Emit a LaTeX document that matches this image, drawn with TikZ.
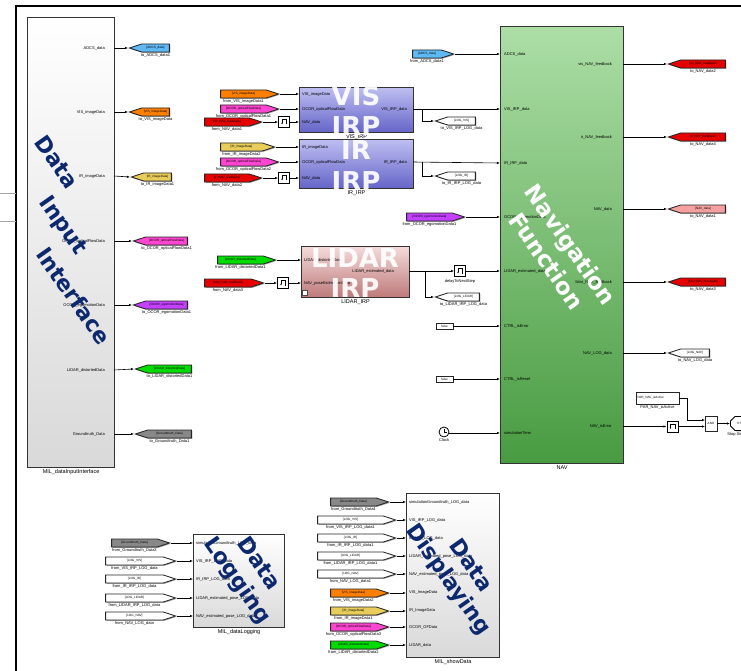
\documentclass[tikz,border=0pt]{standalone}
\usepackage{fontspec}
\setmainfont{Liberation Sans}
\newfontfamily\bigfont{DejaVu Sans}
\usetikzlibrary{shapes.symbols,shapes.misc,arrows.meta,shadows}
\definecolor{navy}{RGB}{12,40,110}
\definecolor{cADCS}{RGB}{95,185,245}
\definecolor{cVIS}{RGB}{255,128,0}
\definecolor{cIR}{RGB}{232,205,90}
\definecolor{cOF}{RGB}{255,70,210}
\definecolor{cEGO}{RGB}{195,65,255}
\definecolor{cLID}{RGB}{0,220,0}
\definecolor{cGT}{RGB}{136,136,136}
\definecolor{cRED}{RGB}{230,0,0}
\definecolor{cPINK}{RGB}{245,160,160}
\definecolor{irpTop}{RGB}{190,190,242}
\definecolor{irpBot}{RGB}{100,100,200}
\definecolor{lidTop}{RGB}{244,218,218}
\definecolor{lidBot}{RGB}{190,122,122}
\definecolor{navTop}{RGB}{172,222,166}
\definecolor{navBot}{RGB}{72,155,65}
\newcommand\pf{\fontsize{4}{4.5}\selectfont}
\newcommand\tf{\fontsize{3.1}{3.5}\selectfont}
\newcommand\nf{\fontsize{5.5}{6}\selectfont}
\newcommand\bigtxt{\fontsize{22}{26}\selectfont\bigfont\bfseries}
\newcommand\navtxt{\fontsize{23}{27}\selectfont\bigfont\bfseries}
\newcommand\irptxt{\fontsize{26}{30}\selectfont\bigfont\bfseries}
\newcommand\gotoT[7]{%
  \node[gototag, fill=#5, minimum width=#3pt, anchor=west] (#1) at (#2,#4) {#6};
  \node[tlab] (#1-l) at (#1.south) {#7};}
\newcommand\fromT[7]{%
  \node[fromtag, fill=#5, minimum width=#3pt, anchor=east] (#1) at (#2,#4) {#6};
  \node[tlab] (#1-l) at (#1.south) {#7};}
\catcode`\_=12
\begin{document}
\begin{tikzpicture}[x=1pt,y=-1pt,
  sh/.style={drop shadow={shadow xshift=0.9pt,shadow yshift=-0.9pt,fill=black,opacity=0.35}},
  sig/.style={-{Latex[length=3pt,width=2.4pt]}, line width=0.6pt},
  wire/.style={line width=0.6pt},
  tag/.style={signal, draw=black!85, line width=0.85pt, minimum height=8pt, inner sep=0pt,
    signal pointer angle=36, font=\tf, sh},
  gototag/.style={tag, signal to=west},
  fromtag/.style={tag, signal to=east},
  tlab/.style={font=\pf, inner sep=0.3pt, anchor=north, yshift=-0.8pt},
  blk/.style={draw=black!80, line width=1.1pt, inner sep=0pt, anchor=north west, sh},
  bname/.style={font=\nf, inner sep=0.5pt, anchor=north, yshift=-1pt},
  plab/.style={font=\pf, inner sep=0pt},
  bigdark/.style={font=\bigtxt, text=navy, inner sep=0pt, rotate=-55},
  bigwhite/.style={font=\navtxt, text=white, inner sep=0pt, rotate=-55},
  irpt/.style={font=\irptxt, text=white, inner sep=0pt, anchor=base, opacity=0.92},
  delaybox/.style={draw=black, line width=0.8pt, fill=white, minimum width=11pt, minimum height=11pt,
    inner sep=0pt, sh,
    path picture={\draw[line width=0.55pt,-{Latex[length=1.6pt,width=1.6pt]}]
      ([shift={(2.5pt,-2.5pt)}]path picture bounding box.center) -- ++(0pt,5pt) -- ++(-4.5pt,0pt) -- ++(0pt,-5pt);}},
  constbox/.style={draw=black!85, line width=0.7pt, fill=white, inner sep=0pt, font=\tf, sh}
]
\useasboundingbox (0,0) rectangle (741,671);
\clip (0,0) rectangle (741,671);

% ---------- frame ----------
\draw[line width=1.4pt] (16,671) -- (16,6) -- (741,6);
\draw[black!35, line width=0.8pt] (0,193) -- (16,193) (0,221) -- (16,221);

% ---------- blocks ----------
\node[blk, top color=white, bottom color=black!15, minimum width=87pt, minimum height=450pt] (dii) at (27,17) {};
\node[bname] (dii-n) at (dii.south) {MIL_dataInputInterface};

\node[blk, top color=irpTop, bottom color=irpBot, minimum width=114pt, minimum height=45pt] (vis) at (299,87) {};
\node[bname] (vis-n) at (vis.south) {VIS_IRP};
\node[blk, top color=irpTop, bottom color=irpBot, minimum width=114pt, minimum height=49pt] (ir) at (299,139) {};
\node[bname] (ir-n) at (ir.south) {IR_IRP};
\node[blk, top color=lidTop, bottom color=lidBot, minimum width=108pt, minimum height=51pt] (lid) at (301,246) {};
\node[bname] (lid-n) at (lid.south) {LIDAR_IRP};
\node[draw=black!70, line width=0.4pt, fill=white, minimum size=5pt, inner sep=0pt] (lid-ic) at (304.5,292.5) {};

\node[blk, top color=navTop, bottom color=navBot, minimum width=123pt, minimum height=437pt] (nav) at (500,26) {};
\node[bname] (nav-n) at (nav.south) {NAV};

\node[blk, top color=white, bottom color=black!15, minimum width=91pt, minimum height=93pt] (log) at (193,534) {};
\node[bname] (log-n) at (log.south) {MIL_dataLogging};
\node[blk, top color=white, bottom color=black!15, minimum width=93pt, minimum height=164pt] (show) at (406,493) {};
\node[bname] (show-n) at (show.south) {MIL_showData};

% ---------- port labels ----------
\foreach \y/\t [count=\i] in {48/ADCS_data,112/VIS_imageData,176/IR_imageData,241/OCOR_opticalFlowData,305/OCOR_egomotionData,370/LIDAR_distortedData,434/Groundtruth_Data}
  {\coordinate (dii-o\i) at (114,\y); \node[plab, anchor=east] (dii-l\i) at (105,\y) {\t};}

\foreach \y/\t [count=\i] in {94/VIS_imageData,109/OCOR_opticalFlowData,122/NAV_data}
  {\coordinate (vis-i\i) at (299,\y); \node[plab, anchor=west] (vis-l\i) at (302,\y) {\t};}
\coordinate (vis-o) at (413,109); \node[plab, anchor=east] (vis-ol) at (407,109) {VIS_IRP_data};
\foreach \y/\t [count=\i] in {147/IR_imageData,162/OCOR_opticalFlowData,178/NAV_data}
  {\coordinate (ir-i\i) at (299,\y); \node[plab, anchor=west] (ir-l\i) at (302,\y) {\t};}
\coordinate (ir-o) at (413,162); \node[plab, anchor=east] (ir-ol) at (407,162) {IR_IRP_data};
\foreach \y/\t [count=\i] in {260/LIDAR_distortedData,283/NAV_poseEstimationData}
  {\coordinate (lid-i\i) at (301,\y); \node[plab, anchor=west] (lid-l\i) at (304,\y) {\t};}
\coordinate (lid-o) at (409,271); \node[plab, anchor=east] (lid-ol) at (394,271) {LIDAR_estimated_data};

\foreach \y/\t [count=\i] in {54/ADCS_data,109/VIS_IRP_data,163/IR_IRP_data,217/OCOR_egomotionData,271/LIDAR_estimated_data,326/CTRL_isError,379/CTRL_isReset,433/simulationTime}
  {\coordinate (nav-i\i) at (500,\y); \node[plab, anchor=west] (nav-l\i) at (504,\y) {\t};}
\foreach \y/\t [count=\i] in {64/vis_NAV_feedback,137/ir_NAV_feedback,209/NAV_data,282/lidar_NAV_feedback,353/NAV_LOG_data,426.5/NAV_isError}
  {\coordinate (nav-o\i) at (623,\y); \node[plab, anchor=east] (nav-ol\i) at (612,\y) {\t};}

\foreach \y/\t [count=\i] in {543/simulationGroundtruth_LOG_data,561/VIS_IRP_LOG_data,579/IR_IRP_LOG_data,598/LIDAR_estimated_pose_LOG_data,616/NAV_estimated_pose_LOG_data}
  {\coordinate (log-i\i) at (193,\y); \node[plab, anchor=west] (log-l\i) at (196,\y) {\t};}
\foreach \y/\t [count=\i] in {502/simulationGroundtruth_LOG_data,520/VIS_IRP_LOG_data,538/IR_IRP_LOG_data,556/LIDAR_estimated_pose_LOG_data,574/NAV_estimated_pose_LOG_data,593/VIS_ImageData,611/IR_ImageData,627/OCOR_OFData,645/LIDAR_data}
  {\coordinate (show-i\i) at (406,\y); \node[plab, anchor=west] (show-l\i) at (409,\y) {\t};}

% ---------- big texts ----------
\node[bigdark] (t-dii1) at (57,162) {Data};
\node[bigdark] (t-dii2) at (62,226) {Input};
\node[bigdark] (t-dii3) at (74,296) {Interface};
\node[bigwhite] (t-nav1) at (569,246) {Navigation};
\node[bigwhite] (t-nav2) at (547,261) {Function};
\node[bigdark] (t-log1) at (260,563) {Data};
\node[bigdark] (t-log2) at (237,581) {Logging};
\node[bigdark] (t-show1) at (472,565) {Data};
\node[bigdark] (t-show2) at (448,580) {Displaying};
\node[irpt] (t-vis1) at (356,106) {VIS};
\node[irpt] (t-vis2) at (356,136) {IRP};
\node[irpt] (t-ir1) at (356,160) {IR};
\node[irpt] (t-ir2) at (356,190) {IRP};
\node[irpt] (t-lid1) at (355,267) {LIDAR};
\node[irpt] (t-lid2) at (355,297) {IRP};

% ---------- tags: input interface ----------
\gotoT{g-adcs}{128}{40}{48}{cADCS}{[ADCS_data]}{to_ADCS_data1}
\gotoT{g-vis}{128}{40}{112}{cVIS}{[VIS_imageData]}{to_VIS_imageData}
\gotoT{g-ir}{130}{40}{177}{cIR}{[IR_imageData]}{to_IR_imageData1}
\gotoT{g-of}{132}{54}{241}{cOF}{[OCOR_opticalFlowData]}{to_OCOR_opticalFlowData1}
\gotoT{g-ego}{132}{54}{305}{cEGO}{[OCOR_egomotionData]}{to_OCOR_egomotionData1}
\gotoT{g-lid}{134}{56}{369}{cLID}{[LIDAR_distortedData]}{to_LIDAR_distortedData1}
\gotoT{g-gt}{134}{56}{434}{cGT}{[Groundtruth_Data]}{to_Groundtruth_Data1}
\foreach \n [count=\i] in {g-adcs,g-vis,g-ir,g-of,g-ego,g-lid,g-gt}
  \draw[sig] (dii-o\i) -- (\n.west);

% ---------- IRP inputs ----------
\fromT{f-vis1}{280}{58}{94}{cVIS}{[VIS_imageData]}{from_VIS_imageData1}
\fromT{f-of1}{280}{58}{109}{cOF}{[OCOR_opticalFlowData]}{from_OCOR_opticalFlowData1}
\fromT{f-nav1}{263}{57}{122}{cRED}{[vis_NAV_feedback]}{from_NAV_data1}
\node[delaybox] (d1) at (284,122) {};
\fromT{f-ir2}{276}{54}{147}{cIR}{[IR_imageData]}{from_IR_imageData2}
\fromT{f-of2}{280}{58}{162}{cOF}{[OCOR_opticalFlowData]}{from_OCOR_opticalFlowData2}
\fromT{f-nav2}{263}{57}{178}{cRED}{[ir_NAV_feedback]}{from_NAV_data2}
\node[delaybox] (d2) at (284,178) {};
\fromT{f-lid1}{277}{58}{260}{cLID}{[LIDAR_distortedData]}{from_LIDAR_distortedData1}
\fromT{f-nav3}{265}{59}{283}{cRED}{[lidar_NAV_feedback]}{from_NAV_data3}
\node[delaybox] (d3) at (283,283) {};

\draw[sig] (f-vis1.east) -- (vis-i1);
\draw[sig] (f-of1.east) -- (vis-i2);
\draw[sig] (f-nav1.east) -- (d1.west);
\draw[sig] (d1.east) -- (vis-i3);
\draw[sig] (f-ir2.east) -- (ir-i1);
\draw[sig] (f-of2.east) -- (ir-i2);
\draw[sig] (f-nav2.east) -- (d2.west);
\draw[sig] (d2.east) -- (ir-i3);
\draw[sig] (f-lid1.east) -- (lid-i1);
\draw[sig] (f-nav3.east) -- (d3.west);
\draw[sig] (d3.east) -- (lid-i2);

% ---------- NAV inputs ----------
\fromT{f-adcs}{455}{41}{54}{cADCS}{[ADCS_data]}{from_ADCS_data1}
\fromT{f-ego}{466}{58}{217}{cEGO}{[OCOR_egomotionData]}{from_OCOR_egomotionData1}
\gotoT{g-logvis}{434}{40}{121}{white}{[LOG_VIS]}{to_VIS_IRP_LOG_data}
\gotoT{g-logir}{434}{40}{176}{white}{[LOG_IR]}{to_IR_IRP_LOG_data}
\gotoT{g-loglid}{434}{44}{297}{white}{[LOG_LIDAR]}{to_LIDAR_IRP_LOG_data}
\node[delaybox] (d4) at (460,271) {};
\node[tlab] (d4-l) at ([yshift=-1pt]d4.south) {delayToNextStep};
\node[constbox, minimum width=17pt, minimum height=6pt] (c1) at (444.5,326) {false};
\node[constbox, minimum width=17pt, minimum height=6pt] (c2) at (444.5,379) {false};
\node[circle, draw=black, line width=0.8pt, fill=white, minimum size=10pt, inner sep=0pt] (clk) at (444,432) {};
\draw[line width=0.6pt] (clk.center) -- ++(0pt,3.5pt) (clk.center) -- ++(2.6pt,0pt);
\node[tlab] (clk-l) at (clk.south) {Clock};

\draw[sig] (f-adcs.east) -- (nav-i1);
\coordinate (vis-br) at (422,109);
\coordinate (ir-br) at (422,162);
\coordinate (lid-br) at (425,271);
\draw[sig] (vis-o) -- (nav-i2);
\draw[sig] (vis-br) |- (g-logvis.west);
\draw[sig] (ir-o) -- (nav-i3);
\draw[sig] (ir-br) |- (g-logir.west);
\draw[sig] (f-ego.east) -- (nav-i4);
\draw[sig] (lid-o) -- (d4.west);
\draw[sig] (d4.east) -- (nav-i5);
\draw[sig] (lid-br) |- (g-loglid.west);
\draw[sig] (c1.east) -- (nav-i6);
\draw[sig] (c2.east) -- (nav-i7);
\draw[sig] (clk.east |- nav-i8) -- (nav-i8);

% ---------- NAV outputs ----------
\gotoT{g-nav2}{667}{57}{64}{cRED}{[vis_NAV_feedback]}{to_NAV_data2}
\gotoT{g-nav4}{667}{57}{137}{cRED}{[ir_NAV_feedback]}{to_NAV_data4}
\gotoT{g-nav1}{667}{57}{209}{cPINK}{[NAV_data]}{to_NAV_data1}
\gotoT{g-nav3}{667}{57}{282}{cRED}{[lidar_NAV_feedback]}{to_NAV_data3}
\gotoT{g-navlog}{667}{41}{353}{white}{[LOG_NAV]}{to_NAV_LOG_data}
\foreach \n [count=\i] in {g-nav2,g-nav4,g-nav1,g-nav3,g-navlog}
  \draw[sig] (nav-o\i) -- (\n.west);

\node[constbox, minimum width=43pt, minimum height=12pt, text width=40pt, align=left] (par) at (657.5,398) {PAR_NAV_isActive};
\node[tlab] (par-l) at (par.south) {PAR_NAV_isActive};
\node[delaybox] (d5) at (672.5,426.5) {};
\node[constbox, minimum width=12pt, minimum height=15pt] (and) at (711,423.5) {AND};
\node[draw=black, line width=0.8pt, fill=white, chamfered rectangle, chamfered rectangle corners={north west,south west},
  chamfered rectangle xsep=3pt, minimum width=22pt, minimum height=14pt, inner sep=0pt, font=\tf, anchor=west, sh] (stop) at (730,423.5) {STOP};
\node[tlab] (stop-l) at (stop.south) {Stop Simulation};
\coordinate (and-i1) at (705,420);
\coordinate (and-i2) at (705,426.5);
\coordinate (par-k) at (687,398);
\draw[sig] (nav-o6) -- (d5.west);
\draw[sig] (d5.east) -- (and-i2);
\draw[sig] (par.east) -- (par-k) |- (and-i1);
\draw[sig] (and.east) -- (stop.west);

% ---------- logging ----------
\fromT{f-gt3}{171}{58}{543}{cGT}{[Groundtruth_Data]}{from_Groundtruth_Data3}
\fromT{f-lv}{177}{70}{561}{white}{[LOG_VIS]}{from_VIS_IRP_LOG_data}
\fromT{f-li}{177}{70}{579}{white}{[LOG_IR]}{from_IR_IRP_LOG_data}
\fromT{f-ll}{177}{70}{598}{white}{[LOG_LIDAR]}{from_LIDAR_IRP_LOG_data}
\fromT{f-ln}{177}{70}{616}{white}{[LOG_NAV]}{from_NAV_LOG_data}
\foreach \n [count=\i] in {f-gt3,f-lv,f-li,f-ll,f-ln}
  \draw[sig] (\n.east) -- (log-i\i);

% ---------- displaying ----------
\fromT{f-gt4}{390}{58}{502}{cGT}{[Groundtruth_Data]}{from_Groundtruth_Data4}
\fromT{f-lv1}{397}{78}{520}{white}{[LOG_VIS]}{from_VIS_IRP_LOG_data1}
\fromT{f-li1}{397}{78}{538}{white}{[LOG_IR]}{from_IR_IRP_LOG_data1}
\fromT{f-ll1}{397}{78}{556}{white}{[LOG_LIDAR]}{from_LIDAR_IRP_LOG_data1}
\fromT{f-ln1}{397}{78}{574}{white}{[LOG_NAV]}{from_NAV_LOG_data1}
\fromT{f-vis2}{390}{58}{593}{cVIS}{[VIS_imageData]}{from_VIS_imageData2}
\fromT{f-ir1}{390}{58}{611}{cIR}{[IR_imageData]}{from_IR_imageData1}
\fromT{f-of3}{390}{58}{627}{cOF}{[OCOR_opticalFlowData]}{from_OCOR_opticalFlowData3}
\fromT{f-lid2}{390}{58}{645}{cLID}{[LIDAR_distortedData]}{from_LIDAR_distortedData2}
\foreach \n [count=\i] in {f-gt4,f-lv1,f-li1,f-ll1,f-ln1,f-vis2,f-ir1,f-of3,f-lid2}
  \draw[sig] (\n.east) -- (show-i\i);
\end{tikzpicture}
\end{document}
